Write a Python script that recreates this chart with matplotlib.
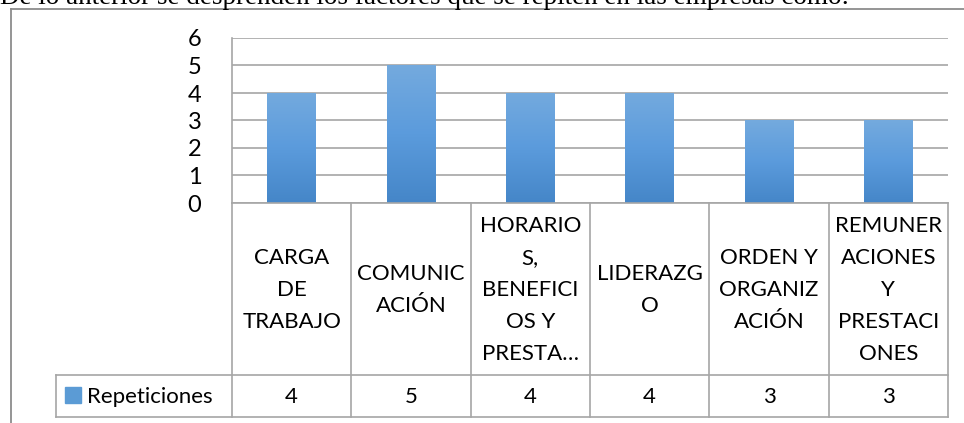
import numpy as np
import matplotlib
matplotlib.use("Agg")
import matplotlib.pyplot as plt
from matplotlib.colors import LinearSegmentedColormap
import matplotlib.transforms as mtransforms

# -- data --
categories = ["CARGA\nDE\nTRABAJO", "COMUNIC\nACIÓN",
              "HORARIO\nS,\nBENEFICI\nOS Y\nPRESTA…",
              "LIDERAZG\nO", "ORDEN Y\nORGANIZ\nACIÓN",
              "REMUNER\nACIONES\nY\nPRESTACI\nONES"]
repeticiones = [4, 5, 4, 4, 3, 3]
series_name = "Repeticiones"
y_ticks = [0, 1, 2, 3, 4, 5, 6]
intro_text = "De lo anterior se desprenden los factores que se repiten en las empresas como:"

W, H = 964, 423
GRID = "#a6a6a6"
FONT = "Lato"


def fy(py):
    # pixel row (from top) -> figure fraction
    return 1 - py / H


def fx(px):
    return px / W


def main():
    fig = plt.figure(figsize=(W / 100, H / 100), dpi=100)

    # -- intro text (cut off at top, as in the source page) + outer frame --
    fig.text(fx(0), fy(4), intro_text, family="Liberation Serif",
             fontsize=19.5, va="baseline", ha="left")
    fig.add_artist(plt.Line2D([fx(11), fx(11)], [fy(9.5), 0], color="#8c8c8c", lw=1.3,
                              transform=fig.transFigure))
    fig.add_artist(plt.Line2D([fx(11), 1], [fy(9.5), fy(9.5)], color="#8c8c8c", lw=1.3,
                              transform=fig.transFigure))

    # -- plot area --
    left, right, top, bottom = 232, 948, 38, 203
    ax = fig.add_axes([fx(left), fy(bottom), fx(right - left), fy(top) - fy(bottom)])
    x = np.arange(len(categories))
    ax.set_yticks(y_ticks)
    ax.set_yticklabels([str(t) for t in y_ticks], family=FONT, fontsize=17)
    ax.tick_params(axis="y", length=0, pad=22)
    ax.set_xticks([])
    for s in ["top", "right", "bottom"]:
        ax.spines[s].set_visible(False)
    ax.spines["left"].set_color(GRID)
    ax.spines["left"].set_linewidth(1.2)
    ax.yaxis.grid(True, color=GRID, lw=1.2)
    ax.set_axisbelow(True)

    # gradient bars
    cmap = LinearSegmentedColormap.from_list("bar", ["#4586c8", "#5b9bdc", "#74aade"])
    bars = ax.bar(x, repeticiones, width=0.41, color="none", edgecolor="none", zorder=2)
    grad = np.linspace(0, 1, 256).reshape(-1, 1)
    for b in bars:
        bx, by = b.get_x(), b.get_y()
        im = ax.imshow(grad, cmap=cmap, origin="lower", aspect="auto",
                       extent=[bx, bx + b.get_width(), by, by + b.get_height()], zorder=2)
        im.set_clip_path(b)
    ax.set_xlim(-0.5, len(categories) - 0.5)
    ax.set_ylim(0, 6)

    # -- data table below --
    trans = mtransforms.blended_transform_factory(ax.transData, fig.transFigure)
    row1, row2, row3 = 203, 375, 417
    legend_left = 56
    lkw = dict(color=GRID, lw=1.2, clip_on=False)
    for xi in np.arange(-0.5, len(categories)):
        ax.add_line(plt.Line2D([xi, xi], [fy(row1), fy(row3)], transform=trans, **lkw))
    ax.add_line(plt.Line2D([-0.5, len(categories) - 0.5], [fy(row1), fy(row1)], transform=trans, **lkw))
    for ry in [row2, row3]:
        fig.add_artist(plt.Line2D([fx(legend_left), fx(right)], [fy(ry), fy(ry)], transform=fig.transFigure,
                                  color=GRID, lw=1.2))
    fig.add_artist(plt.Line2D([fx(legend_left), fx(legend_left)], [fy(row2), fy(row3)], transform=fig.transFigure,
                              color=GRID, lw=1.2))

    for xi, cat, val in zip(x, categories, repeticiones):
        ax.text(xi, fy((row1 + row2) / 2 + 1), cat, transform=trans, ha="center", va="center",
                family=FONT, fontsize=16, linespacing=1.75, multialignment="center")
        ax.text(xi, fy((row2 + row3) / 2 + 1), str(val), transform=trans, ha="center", va="center",
                family=FONT, fontsize=16)

    # legend key + series name
    fig.add_artist(plt.Rectangle((fx(65), fy(403)), fx(16), fy(387) - fy(403),
                                 color="#5b9bd5", transform=fig.transFigure))
    fig.text(fx(87), fy((row2 + row3) / 2 + 1), series_name, family=FONT, fontsize=16,
             ha="left", va="center")

    plt.savefig("out.png", dpi=100)
    plt.close("all")


if __name__ == "__main__":
    main()
